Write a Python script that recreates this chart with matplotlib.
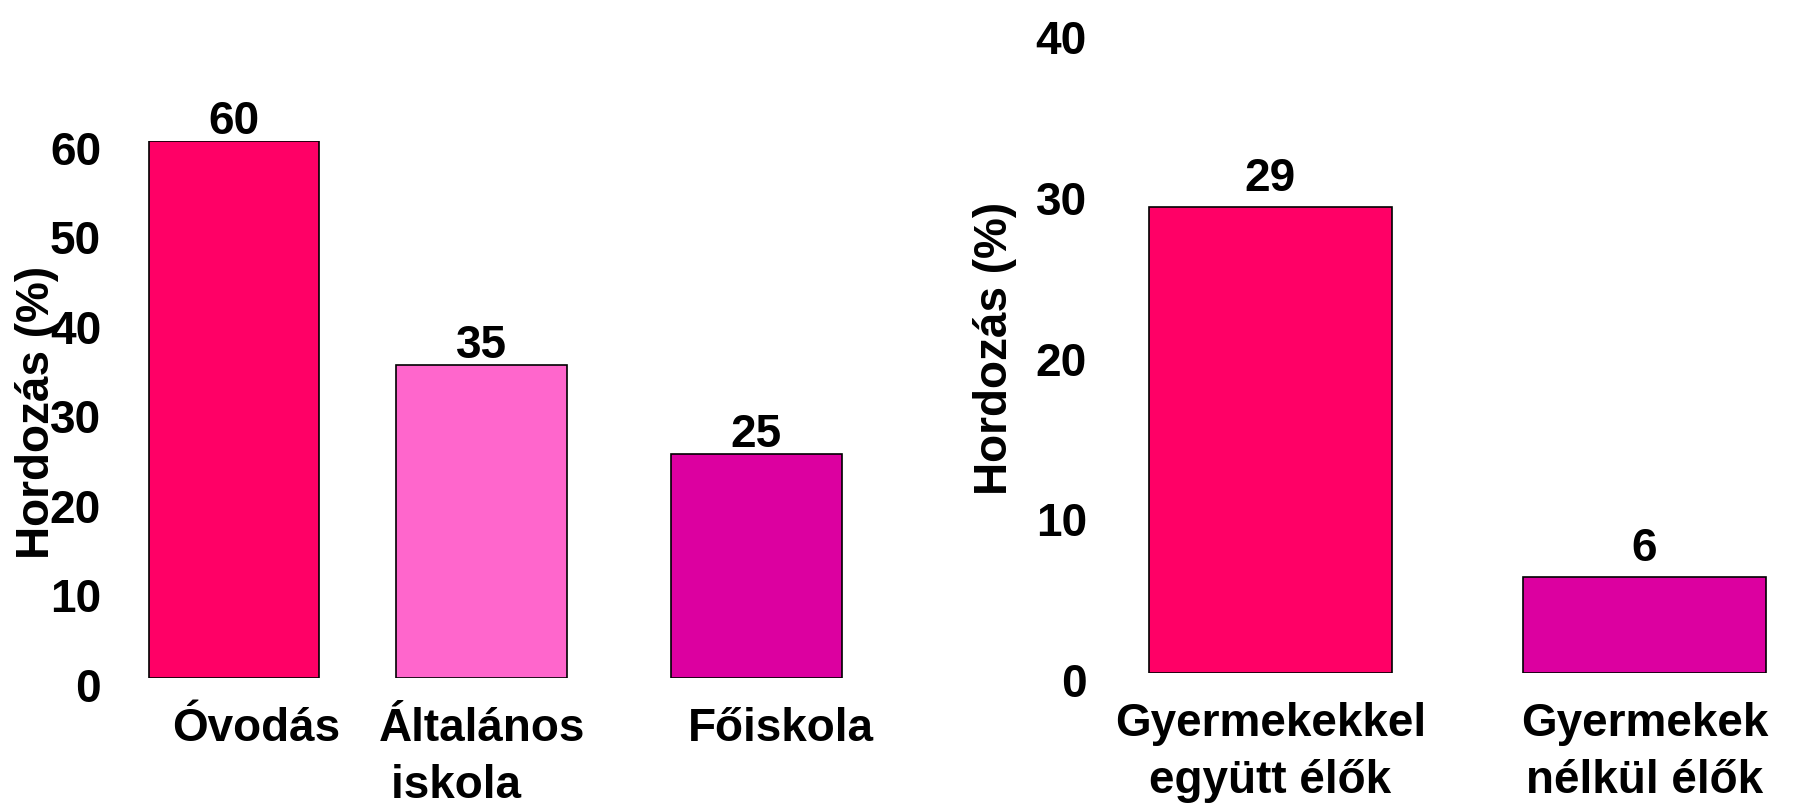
import matplotlib.pyplot as plt
from matplotlib.transforms import ScaledTranslation

plt.rcParams['font.family'] = ['Liberation Sans', 'DejaVu Sans']
plt.rcParams['font.weight'] = 'bold'
plt.rcParams['axes.labelweight'] = 'bold'
plt.rcParams['font.size'] = 33

# --- data ---------------------------------------------------------------------
school = ["Óvodás", "Általános\niskola    ", "Főiskola"]
school_pct = [60, 35, 25]
school_colors = ["#FF0066", "#FF66CC", "#DC00A0"]

home = ["Gyermekekkel\negyütt élők", "Gyermekek\nnélkül élők"]
home_pct = [29, 6]
home_colors = ["#FF0066", "#DC00A0"]

ylabel = "Hordozás (%)"

# --- layout helpers -------------------------------------------------------------
W, H = 1794, 806
fig = plt.figure(figsize=(W / 100, H / 100), dpi=100)


def px_axes(x0, x1, ytop, ybot):
    return fig.add_axes([x0 / W, 1 - ybot / H, (x1 - x0) / W, (ybot - ytop) / H])


def style(ax, yticks, tick_pad):
    for s in ax.spines.values():
        s.set_visible(False)
    ax.set_yticks(yticks)
    ax.tick_params(axis='both', length=0)
    ax.tick_params(axis='y', pad=tick_pad)
    ax.tick_params(axis='x', pad=21)
    # tick numbers sit a little below their gridline value
    shift = ScaledTranslation(0, -7 / 100, fig.dpi_scale_trans)
    for lbl in ax.get_yticklabels():
        lbl.set_transform(lbl.get_transform() + shift)


def bars(ax, pos, vals, colors, width, gap):
    ax.bar(pos, vals, width=width, color=colors, edgecolor='black', linewidth=1.2)
    for x, v in zip(pos, vals):
        ax.annotate(str(v), (x, v), xytext=(0, gap), textcoords='offset points',
                    ha='center', va='baseline')


# --- left chart: by school type -------------------------------------------------
ax1 = px_axes(113, 880, 141, 678)
pos1 = [0, 1, 2.11]
bars(ax1, pos1, school_pct, school_colors, 0.69, 5)
ax1.set_xlim(-0.489, 2.61)
ax1.set_ylim(0, 60)
ax1.set_xticks([p + d for p, d in zip(pos1, [0.09, 0.0, 0.1])], school,
               linespacing=1.38)
style(ax1, range(0, 61, 10), 8.6)
ax1.set_ylabel(ylabel, va='center')
ax1.yaxis.set_label_coords(-0.099, 0.495)

# --- right chart: by household ----------------------------------------------------
ax2 = px_axes(1095, 1790, 30, 673)
pos2 = [0, 1]
bars(ax2, pos2, home_pct, home_colors, 0.651, 11.5)
ax2.set_xlim(-0.469, 1.389)
ax2.set_ylim(0, 40)
ax2.set_xticks(pos2, home, linespacing=1.38)
style(ax2, range(0, 41, 10), 5.8)
ax2.set_ylabel(ylabel, va='center')
ax2.yaxis.set_label_coords(-0.144, 0.504)

fig.savefig("out.png", dpi=100)
